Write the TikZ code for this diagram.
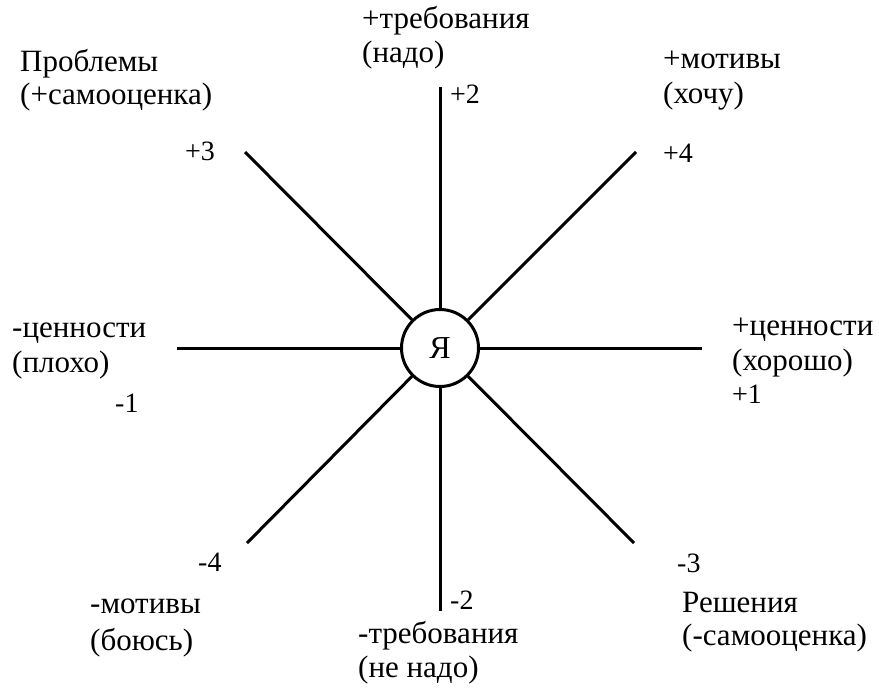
\documentclass[tikz,border=0pt]{standalone}
\usepackage{fontspec}
\setmainfont{Liberation Serif}
\begin{document}
\begin{tikzpicture}[x=1pt,y=-1pt,
  lbl/.style={anchor=base west,inner sep=0pt,font=\fontsize{31}{36}\selectfont},
  num/.style={anchor=base west,inner sep=0pt,font=\fontsize{28}{32}\selectfont},
  ray/.style={line width=3pt}]
\useasboundingbox (0,0) rectangle (879,689);
\node[draw,circle,line width=3pt,minimum size=77pt,inner sep=0pt,font=\fontsize{32}{36}\selectfont] (ya) at (440,348) {Я};
\coordinate (eN) at (440,87);
\coordinate (eS) at (440,611);
\coordinate (eW) at (177,348);
\coordinate (eE) at (702,348);
\coordinate (eNW) at (245,152);
\coordinate (eNE) at (636,152);
\coordinate (eSW) at (247,543);
\coordinate (eSE) at (634,543);
\foreach \e in {eN,eS,eW,eE,eNW,eNE,eSW,eSE} \draw[ray] (ya) -- (\e);
% labels
\node[lbl] (nw1) at (20,71) {Проблемы};
\node[lbl] (nw2) at (20,104) {(+самооценка)};
\node[num] (nw3) at (185,160) {+3};
\node[lbl] (n1) at (362,28) {+требования};
\node[lbl] (n2) at (362,62) {(надо)};
\node[num] (n3) at (450,103) {+2};
\node[lbl] (ne1) at (663,68) {+мотивы};
\node[lbl] (ne2) at (663,103) {(хочу)};
\node[num] (ne3) at (663,162) {+4};
\node[lbl] (w1) at (12,337) {-ценности};
\node[lbl] (w2) at (12,372) {(плохо)};
\node[num] (w3) at (115,412) {-1};
\node[lbl] (e1) at (732,335) {+ценности};
\node[lbl] (e2) at (732,370) {(хорошо)};
\node[num] (e3) at (732,403) {+1};
\node[num] (sw3) at (198,571) {-4};
\node[lbl] (sw1) at (90,613) {-мотивы};
\node[lbl] (sw2) at (90,650) {(боюсь)};
\node[num] (s3) at (450,609) {-2};
\node[lbl] (s1) at (358,643) {-требования};
\node[lbl] (s2) at (358,677) {(не надо)};
\node[num] (se3) at (677,572) {-3};
\node[lbl] (se1) at (682,612) {Решения};
\node[lbl] (se2) at (682,645) {(-самооценка)};
\end{tikzpicture}
\end{document}
